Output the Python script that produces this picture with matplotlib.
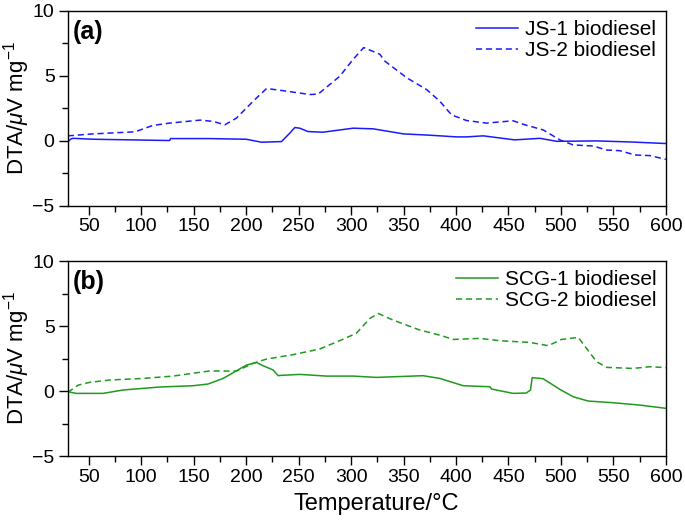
import matplotlib
matplotlib.use("Agg")
import matplotlib.pyplot as plt
from matplotlib.ticker import MultipleLocator

plt.rcParams['font.family'] = ['Liberation Sans', 'DejaVu Sans']
plt.rcParams['mathtext.fontset'] = 'custom'
plt.rcParams['mathtext.rm'] = 'Liberation Sans'
plt.rcParams['mathtext.it'] = 'Liberation Sans:italic'

# JS-1 biodiesel (solid)
js1_t = [30, 33, 35, 54, 127, 128, 165, 200, 214.6, 233.7, 241.6, 246.4, 251, 259, 273, 302,
         321, 350, 375, 400.5, 410, 426, 456, 480, 496, 534, 566, 600]
js1_v = [-0.05, 0.15, 0.2, 0.13, 0.03, 0.18, 0.18, 0.13, -0.1, -0.05, 0.6, 1.03, 0.98, 0.72, 0.67, 0.98,
         0.93, 0.54, 0.44, 0.31, 0.31, 0.39, 0.08, 0.2, -0.03, 0.0, -0.08, -0.2]
# JS-2 biodiesel (dashed)
js2_t = [30, 54, 94, 111, 127, 156, 168.5, 179.7, 190.8, 206.6, 219.4, 232, 260.7, 268.6, 289.3, 302,
         312, 327.4, 332, 353, 372, 384.6, 395.8, 410, 429, 454.5, 465.6, 483, 499, 511.7, 530.8,
         543.5, 556, 570.5, 584.8, 600]
js2_v = [0.39, 0.54, 0.7, 1.19, 1.37, 1.6, 1.5, 1.24, 1.76, 3.05, 4.03, 3.9, 3.57, 3.6, 4.98, 6.28,
         7.18, 6.67, 6.15, 4.86, 3.95, 3.05, 2.0, 1.57, 1.37, 1.55, 1.24, 0.85, 0.08, -0.31, -0.39,
         -0.7, -0.75, -1.08, -1.13, -1.42]
# SCG-1 biodiesel (solid)
scg1_t = [30, 38, 63.6, 82.7, 117.7, 149.5, 163.7, 178, 190.8, 200.4, 210, 214.6, 225.7, 230.5, 232,
          251, 276.6, 302, 324, 368.7, 384.6, 406.8, 432.3, 434, 454.5, 467, 471, 472.6, 483, 499,
          511.7, 526, 550, 575.3, 600]
scg1_v = [-0.05, -0.18, -0.18, 0.08, 0.31, 0.41, 0.54, 0.97, 1.56, 2.0, 2.2, 2.0, 1.62, 1.18, 1.2,
          1.28, 1.15, 1.15, 1.05, 1.18, 0.97, 0.41, 0.33, 0.15, -0.18, -0.15, 0.08, 1.03, 0.95, 0.13,
          -0.44, -0.77, -0.9, -1.08, -1.33]
# SCG-2 biodiesel (dashed)
scg2_t = [30, 40, 51, 70, 101.8, 130.4, 155.8, 165, 190.8, 206.6, 219.4, 244.8, 270, 289, 305, 318,
          325.8, 340, 365.5, 384.6, 397.3, 422.8, 441.8, 470.4, 488, 500.6, 516.5, 524.4, 534, 543.5,
          568.9, 584.8, 600]
scg2_v = [-0.1, 0.46, 0.67, 0.85, 0.97, 1.15, 1.44, 1.54, 1.54, 2.13, 2.46, 2.8, 3.23, 3.87, 4.44,
          5.59, 5.97, 5.46, 4.69, 4.3, 3.97, 4.05, 3.87, 3.74, 3.49, 3.97, 4.13, 3.28, 2.26, 1.82,
          1.74, 1.87, 1.8]

blue = '#1a1aff'
green = '#1f9a1f'
dash = (0, (4, 2.5))

fig = plt.figure(figsize=(6.85, 5.2), dpi=100)
ax1 = fig.add_axes([0.099, 0.604, 0.873, 0.375])
ax2 = fig.add_axes([0.099, 0.123, 0.873, 0.375])

ax1.plot(js1_t, js1_v, color=blue, lw=1.1, label='JS-1 biodiesel')
ax1.plot(js2_t, js2_v, color=blue, lw=1.1, ls=dash, label='JS-2 biodiesel')
ax2.plot(scg1_t, scg1_v, color=green, lw=1.1, label='SCG-1 biodiesel')
ax2.plot(scg2_t, scg2_v, color=green, lw=1.1, ls=dash, label='SCG-2 biodiesel')

for ax, lab in [(ax1, '(a)'), (ax2, '(b)')]:
    ax.set_xlim(30, 600)
    ax.set_ylim(-5, 10)
    ax.xaxis.set_major_locator(MultipleLocator(50))
    ax.xaxis.set_minor_locator(MultipleLocator(25))
    ax.yaxis.set_major_locator(MultipleLocator(5))
    ax.yaxis.set_minor_locator(MultipleLocator(2.5))
    ax.tick_params(which='major', direction='out', length=6.5, width=1, labelsize=14)
    ax.tick_params(axis='x', which='major', pad=2.5)
    ax.tick_params(axis='y', which='major', pad=3)
    ax.tick_params(which='minor', direction='out', length=4, width=1)
    for s in ax.spines.values():
        s.set_linewidth(1)
    ax.set_ylabel(r'DTA/$\mu$V mg$^{-1}$', fontsize=16)
    ax.yaxis.set_label_coords(-0.06, 0.5)
    ax.text(0.008, 0.955, lab, transform=ax.transAxes, fontsize=18, fontweight='bold',
            ha='left', va='top')
    ax.legend(loc='upper right', frameon=False, fontsize=15, handlelength=2.0,
              borderaxespad=0.25, labelspacing=0.1, handletextpad=0.35, borderpad=0.2)

ax2.set_xlabel('Temperature/°C', fontsize=17)
ax2.xaxis.set_label_coords(0.515, -0.19)

fig.savefig('out.png', dpi=100)
